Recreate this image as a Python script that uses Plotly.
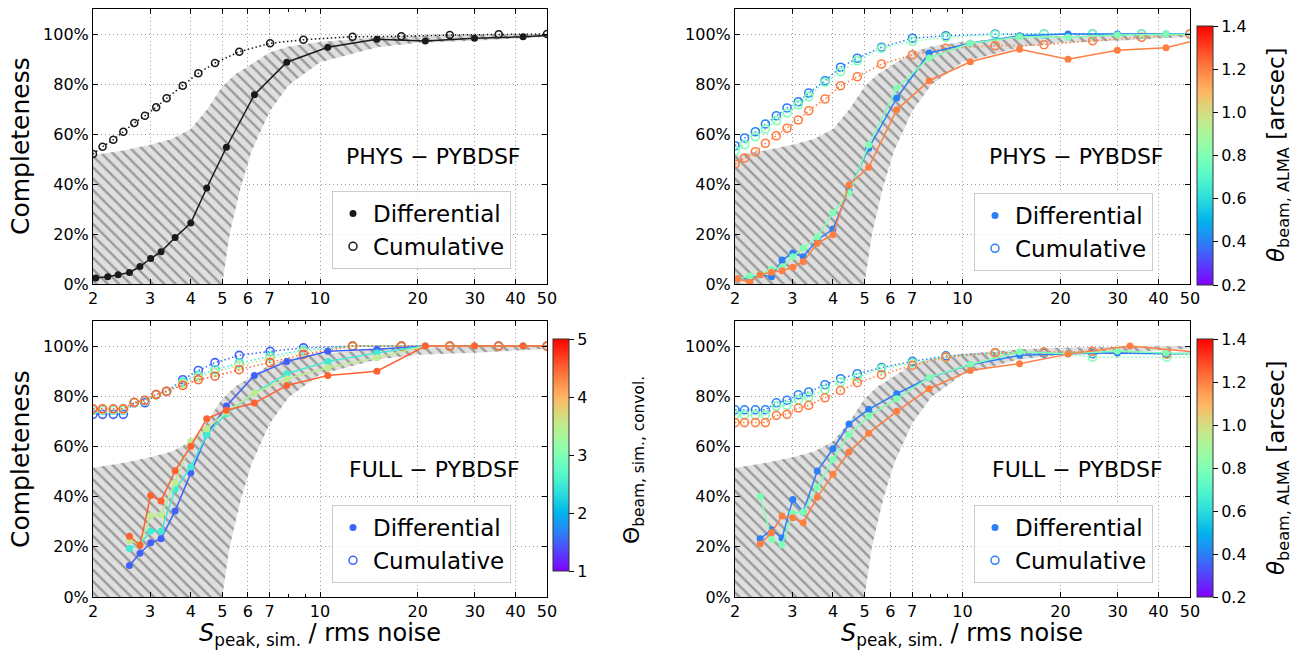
import math
import plotly.graph_objects as go

W, H = 1296, 654

# ---------------- data ----------------
x_ticks = [2, 3, 4, 5, 6, 7, 10, 20, 30, 40, 50]
y_ticks = [0, 20, 40, 60, 80, 100]

# bin centres (differential) and bin edges (cumulative)
x_diff = [2.04, 2.22, 2.39, 2.59, 2.79, 3.01, 3.24, 3.58, 4.0, 4.48, 5.15, 6.28, 7.9, 10.57, 14.97, 21.1, 29.9, 42.2, 59.5]
x_cum = [2.0, 2.14, 2.31, 2.48, 2.68, 2.89, 3.13, 3.37, 3.78, 4.22, 4.75, 5.64, 7.02, 8.89, 12.6, 17.8, 25.1, 35.5, 50.0]
x_cum_fr = [2.0, 2.14, 2.31, 2.48, 2.68, 2.89, 3.13, 3.37, 3.78, 4.22, 4.75, 5.64, 7.02, 8.89, 12.6, 17.8, 25.1, 42.4, 59.5]
x_diff_fr_orange = [2.39, 2.59, 2.79, 3.01, 3.24, 3.58, 4.0, 4.48, 5.15, 6.28, 7.9, 10.57, 14.97, 21.1, 32.7, 59.5]

# shaded (hatched) envelope
band_x_upper = [2, 2.5, 3, 3.5, 4, 4.5, 5, 5.5, 6, 7, 8, 10, 15, 20, 30, 50]
band_upper = [51.5, 53.5, 55.7, 58, 62, 70, 79, 84, 87, 92.7, 95, 96.8, 98.7, 99.3, 99.7, 100]
band_x_lower = [2, 5, 5.27, 5.7, 6.15, 7, 8, 10, 15, 20, 30, 50]
band_lower = [0, 0, 20, 38.7, 53, 69, 79.5, 88.7, 94.7, 96.5, 97.3, 98.9]

# top-left: PHYS - PYBDSF (single)
tl_diff = [2.4, 2.9, 3.7, 4.6, 7.0, 10.2, 12.9, 18.6, 24.4, 38.4, 54.7, 75.7, 88.7, 94.7, 97.9, 97.2, 98.3, 98.9, 100]
tl_cum = [52.0, 54.9, 57.7, 60.9, 64.4, 67.3, 70.7, 74.3, 79.3, 84.3, 88.4, 92.9, 96.3, 97.7, 98.9, 99.1, 99.6, 99.9, 100]

# top-right: PHYS - PYBDSF by ALMA beam [arcsec]
tr_beams = [0.4, 0.8, 1.2]
tr_diff = [
    [2.0, 2.7, 3.7, 2.9, 9.6, 12.4, 10.9, 17.6, 22.0, 37.6, 54.3, 74.4, 92.4, 96.3, 99.3, 100, 100, 100, 100],
    [2.0, 3.2, 3.7, 5.9, 6.7, 10.9, 14.4, 18.9, 28.5, 36.4, 55.6, 78.4, 90.4, 96.3, 98.9, 98.7, 99.6, 100, 100],
    [2.1, 0.7, 3.7, 4.7, 5.3, 6.7, 8.9, 16.3, 19.7, 39.6, 46.7, 69.7, 81.3, 88.9, 93.9, 89.9, 93.5, 94.5, 99.4],
]
tr_cum = [
    [55.3, 58.4, 60.9, 64.0, 67.3, 70.4, 72.9, 76.4, 81.3, 86.7, 90.3, 94.7, 98.3, 99.3, 100, 100, 100, 100, 100],
    [53.3, 55.7, 58.9, 62.0, 65.3, 68.4, 71.7, 74.9, 80.7, 84.9, 89.3, 94.3, 97.1, 98.7, 99.7, 100, 100, 100, 100],
    [48.0, 50.4, 52.9, 56.3, 59.3, 62.3, 65.6, 69.3, 74.0, 79.3, 82.9, 88.0, 91.7, 94.3, 95.3, 95.7, 97.3, 98.7, 100],
]

# bottom-left: FULL - PYBDSF by convolved simulated beam
bl_beams = [1.5, 2.5, 3.5, 4.5]
bl_diff = [
    [None, None, None, 12.6, 17.4, 21.6, 23.2, 34.3, 49.5, 64.7, 76.1, 88.3, 93.9, 97.9, 98.7, 100, 100, 100, 100],
    [None, None, None, 19.3, 21.2, 26.3, 26.2, 42.8, 51.8, 64.7, 73.0, 81.3, 89.0, 93.9, 97.3, 100, 100, 100, 100],
    [None, None, None, 22.5, 21.0, 32.4, 32.8, 45.5, 62.0, 67.1, 73.7, 81.3, 87.0, 91.4, 95.4, 100, 100, 100, 100],
    [None, None, None, 24.2, 20.6, 40.5, 38.3, 50.3, 60.1, 71.0, 74.4, 77.3, 84.3, 88.3, 90.0, 100, 100, 100, 100],
]
bl_cum = [
    [72.8, 72.8, 72.8, 72.8, 77.4, 77.4, 80.7, 81.9, 86.6, 90.3, 93.4, 96.3, 97.9, 99.3, 100, 100, 100, 100, 100],
    [74.4, 74.4, 74.4, 74.4, 77.4, 78.0, 80.6, 81.9, 85.7, 88.3, 90.6, 93.2, 96.0, 98.3, 100, 100, 100, 100, 100],
    [74.7, 74.7, 74.7, 74.7, 77.4, 78.2, 80.6, 81.9, 85.0, 87.5, 89.6, 92.3, 95.0, 97.6, 100, 100, 100, 100, 100],
    [75.0, 75.0, 75.0, 75.0, 77.6, 78.4, 80.7, 82.0, 84.3, 86.6, 88.0, 90.6, 93.4, 96.7, 100, 100, 100, 100, 100],
]

# bottom-right: FULL - PYBDSF by ALMA beam [arcsec]
br_beams = [0.4, 0.8, 1.2]
br_diff_blue = [None, None, 23.2, 26.8, 23.5, 38.9, 33.9, 50.2, 59.1, 68.9, 74.8, 81.0, 87.4, 92.6, 96.3, 96.9, 97.2, 96.9, 97.2]
br_diff_green = [None, None, 40.1, 23.0, 20.8, 33.5, 33.9, 43.6, 54.8, 64.7, 72.1, 79.0, 87.5, 92.7, 97.7, 96.9, 98.0, 97.2, 96.9]
br_diff_orange = [21.1, 25.6, 32.3, 31.6, 29.6, 39.8, 48.9, 57.8, 65.3, 74.0, 83.0, 90.3, 93.0, 96.8, 100, 97.0]
br_cum = [
    [74.6, 74.6, 74.6, 74.6, 77.4, 78.4, 80.6, 81.7, 84.6, 87.0, 89.0, 91.4, 93.9, 96.1, 97.3, 97.2, 96.9, 96.9, 96.9],
    [72.6, 72.6, 72.6, 72.6, 76.1, 76.4, 78.6, 79.7, 82.7, 85.7, 87.6, 91.0, 93.2, 95.6, 97.2, 97.6, 95.6, 95.6, 95.6],
    [69.5, 69.5, 69.5, 69.5, 72.4, 72.8, 75.3, 76.4, 79.4, 82.3, 85.4, 88.6, 92.3, 95.6, 97.3, 97.6, 97.9, 96.9, 96.9],
]

alma_range = (0.2, 1.4)
alma_ticks = [0.2, 0.4, 0.6, 0.8, 1.0, 1.2, 1.4]
sim_range = (1, 5)
sim_ticks = [1, 2, 3, 4, 5]


# ---------------- helpers ----------------
def rainbow(t):
    t = min(max(t, 0.0), 1.0)
    r = min(1.0, abs(2 * t - 0.5))
    g = math.sin(math.pi * t)
    b = math.cos(math.pi * t / 2)
    return "rgb(%d,%d,%d)" % (round(r * 255), round(g * 255), round(b * 255))


def cmap(v, rng):
    return rainbow((v - rng[0]) / (rng[1] - rng[0]))


colorscale = [[i / 20, rainbow(i / 20)] for i in range(21)]


def px(p):
    return p / W


def py(p):
    return 1 - p / H


panels = {
    "1": dict(x=(93, 547), y=(9, 284)),
    "2": dict(x=(735, 1190), y=(9, 284)),
    "3": dict(x=(93, 547), y=(321, 597)),
    "4": dict(x=(735, 1190), y=(321, 597)),
}

FONT = "DejaVu Sans"
fig = go.Figure()

DOT = "1.5px,2.5px"
GRIDDOT = "1px,3px"


def axes_ref(k):
    return ("x" if k == "1" else "x" + k), ("y" if k == "1" else "y" + k)


def add_band(k):
    xa, ya = axes_ref(k)
    fig.add_trace(go.Scatter(
        x=band_x_upper + band_x_lower[::-1],
        y=band_upper + band_lower[::-1],
        mode="lines", line=dict(width=0), fill="toself",
        fillcolor="rgba(0,0,0,0)",
        fillpattern=dict(shape="\\", bgcolor="#dfdfdf", fgcolor="#9a9a9a",
                         size=8, solidity=0.3, fgopacity=1),
        hoverinfo="skip", showlegend=False, xaxis=xa, yaxis=ya))


def add_cum(k, x, y, color, size=8):
    xa, ya = axes_ref(k)
    fig.add_trace(go.Scatter(
        x=x, y=y, mode="lines+markers",
        line=dict(color=color, width=1.5, dash=DOT),
        marker=dict(symbol="circle-open", size=size, color=color, line=dict(width=1.6, color=color)),
        showlegend=False, xaxis=xa, yaxis=ya))


def add_diff(k, x, y, color, size=7):
    xa, ya = axes_ref(k)
    fig.add_trace(go.Scatter(
        x=x, y=y, mode="lines+markers",
        line=dict(color=color, width=1.5),
        marker=dict(symbol="circle", size=size, color=color),
        showlegend=False, xaxis=xa, yaxis=ya))


def add_legend(k, color, legend_name):
    xa, ya = axes_ref(k)
    fig.add_trace(go.Scatter(x=[None], y=[None], mode="markers", name="Differential",
                             marker=dict(symbol="circle", size=7, color=color),
                             legend=legend_name, xaxis=xa, yaxis=ya))
    fig.add_trace(go.Scatter(x=[None], y=[None], mode="markers", name="Cumulative",
                             marker=dict(symbol="circle-open", size=8, color=color, line=dict(width=1.5, color=color)),
                             legend=legend_name, xaxis=xa, yaxis=ya))


def add_colorbar(k, rng, ticks, fmt, x_left, y_top, y_bot, thick):
    xa, ya = axes_ref(k)
    fig.add_trace(go.Scatter(
        x=[None], y=[None], mode="markers", showlegend=False, xaxis=xa, yaxis=ya,
        marker=dict(color=[rng[0]], cmin=rng[0], cmax=rng[1], colorscale=colorscale, showscale=True,
                    colorbar=dict(x=px(x_left), xanchor="left", xpad=0, ypad=0,
                                  y=py((y_top + y_bot) / 2), yanchor="middle",
                                  len=y_bot - y_top, lenmode="pixels",
                                  thickness=thick, thicknessmode="pixels",
                                  outlinewidth=1, outlinecolor="#333333",
                                  ticks="outside", ticklen=5, tickcolor="black",
                                  tickvals=ticks, ticktext=[fmt.format(t) for t in ticks],
                                  tickfont=dict(size=16, color="black", family=FONT)))))


# ---------------- panel 1 (top-left) ----------------
BLACK = "#1a1a1a"
add_band("1")
add_cum("1", x_cum, tl_cum, BLACK, size=7)
add_diff("1", x_diff, tl_diff, BLACK, size=7)
add_legend("1", BLACK, "legend")

# ---------------- panel 2 (top-right) ----------------
add_band("2")
for b, yy in zip(tr_beams, tr_cum):
    add_cum("2", x_cum, yy, cmap(b, alma_range))
for b, yy in zip(tr_beams, tr_diff):
    add_diff("2", x_diff, yy, cmap(b, alma_range))
add_legend("2", cmap(tr_beams[0], alma_range), "legend2")
add_colorbar("2", alma_range, alma_ticks, "{:.1f}", 1197, 26, 285, 16)

# ---------------- panel 3 (bottom-left) ----------------
add_band("3")
for b, yy in zip(bl_beams, bl_cum):
    add_cum("3", x_cum, yy, cmap(b, sim_range))
for b, yy in zip(bl_beams, bl_diff):
    add_diff("3", x_diff, yy, cmap(b, sim_range))
add_legend("3", cmap(bl_beams[0], sim_range), "legend3")
add_colorbar("3", sim_range, sim_ticks, "{:d}", 553, 339, 571, 16)

# ---------------- panel 4 (bottom-right) ----------------
add_band("4")
for b, yy in zip(br_beams, br_cum):
    add_cum("4", x_cum_fr, yy, cmap(b, alma_range))
add_diff("4", x_diff, br_diff_blue, cmap(br_beams[0], alma_range))
add_diff("4", x_diff, br_diff_green, cmap(br_beams[1], alma_range))
add_diff("4", x_diff_fr_orange, br_diff_orange, cmap(br_beams[2], alma_range))
add_legend("4", cmap(br_beams[0], alma_range), "legend4")
add_colorbar("4", alma_range, alma_ticks, "{:.1f}", 1197, 339, 597, 16)

# ---------------- axes ----------------
layout = {}
for k, p in panels.items():
    xname = "xaxis" if k == "1" else "xaxis" + k
    yname = "yaxis" if k == "1" else "yaxis" + k
    xa, ya = axes_ref(k)
    layout[xname] = dict(
        type="log", domain=[px(p["x"][0]), px(p["x"][1])], anchor=ya,
        range=[math.log10(2), math.log10(50)],
        tickvals=x_ticks, ticktext=[str(v) for v in x_ticks],
        ticks="inside", ticklen=5, tickwidth=1, tickcolor="black",
        showline=True, linecolor="black", linewidth=1, mirror="allticks",
        showgrid=True, gridcolor="#9a9a9a", griddash=GRIDDOT, gridwidth=1,
        minor=dict(tickvals=[8, 9], ticks="inside", ticklen=3, tickcolor="black", showgrid=False),
        tickfont=dict(size=16, color="black", family=FONT), zeroline=False, automargin=False)
    layout[yname] = dict(
        domain=[py(p["y"][1]), py(p["y"][0])], anchor=xa, range=[0, 110],
        tickvals=y_ticks, ticktext=["%d%%" % v for v in y_ticks],
        ticks="inside", ticklen=5, tickwidth=1, tickcolor="black",
        showline=True, linecolor="black", linewidth=1, mirror="allticks",
        showgrid=True, gridcolor="#9a9a9a", griddash=GRIDDOT, gridwidth=1,
        tickfont=dict(size=16, color="black", family=FONT), zeroline=False, automargin=False)

legend_style = dict(xanchor="left", yanchor="top", bgcolor="rgba(255,255,255,0.8)",
                    bordercolor="#cccccc", borderwidth=1, itemsizing="trace",
                    font=dict(size=23, color="black", family=FONT), tracegroupgap=0)
layout["legend"] = dict(x=px(332), y=py(191), **legend_style)
layout["legend2"] = dict(x=px(974), y=py(193), **legend_style)
layout["legend3"] = dict(x=px(332), y=py(505), **legend_style)
layout["legend4"] = dict(x=px(974), y=py(505), **legend_style)

annotations = []


def ann(text, x, y, size, angle=0):
    annotations.append(dict(text=text, x=px(x), y=py(y), xref="paper", yref="paper",
                            xanchor="center", yanchor="middle", showarrow=False, textangle=angle,
                            font=dict(size=size, color="black", family=FONT)))


ann("PHYS \u2212 PYBDSF", 433, 157, 22)
ann("PHYS \u2212 PYBDSF", 1076, 157, 22)
ann("FULL \u2212 PYBDSF", 434, 470, 22)
ann("FULL \u2212 PYBDSF", 1077, 470, 22)
ann("Completeness", 20, 146, 25, -90)
ann("Completeness", 20, 459, 25, -90)
xtitle = "<i>S</i><sub>peak, sim.</sub> / rms noise"
ann(xtitle, 320, 634, 24)
ann(xtitle, 962, 634, 24)
ann("<i>\u03b8</i><sub>beam, ALMA</sub> [arcsec]", 1278, 155, 23, -90)
ann("<i>\u03b8</i><sub>beam, ALMA</sub> [arcsec]", 1278, 468, 23, -90)
ann("\u0398<sub>beam, sim., convol.</sub>", 633, 460, 22, -90)

fig.update_layout(
    width=W, height=H, margin=dict(l=0, r=0, t=0, b=0, autoexpand=False),
    paper_bgcolor="white", plot_bgcolor="white",
    font=dict(family=FONT, color="black"),
    annotations=annotations, **layout)

fig.write_html("out.html", config={"displayModeBar": False},
               post_script="document.body.style.margin='0';document.body.style.overflow='hidden';")
